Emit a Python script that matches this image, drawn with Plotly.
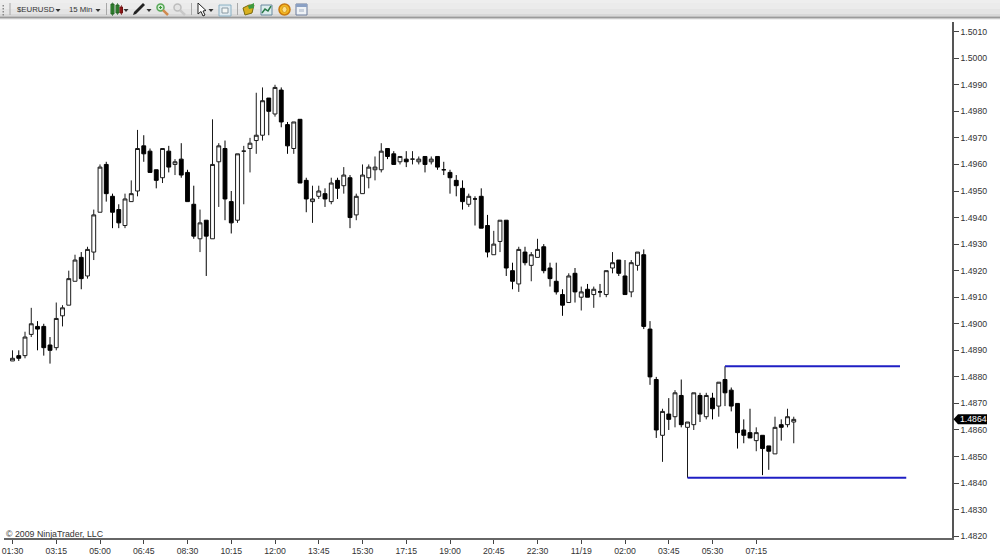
import plotly.graph_objects as go

opens = [1.4886,1.4888,1.4888,1.4896,1.4899,1.4899,1.4892,1.4891,1.4903,1.4907,
1.4916,1.4925,1.4918,1.4927,1.4942,1.4960,1.4948,1.4943,1.4937,1.4946,
1.4950,1.4967,1.4965,1.4958,1.4955,1.4965,1.4960,1.4962,1.4957,1.4945,
1.4932,1.4939,1.4932,1.4961,1.4966,1.4946,1.4939,1.4965,1.4966,1.4969,
1.4971,1.4985,1.4979,1.4988,1.4975,1.4966,1.4977,1.4954,1.4946,1.4948,
1.4949,1.4946,1.4954,1.4952,1.4955,1.4941,1.4949,1.4955,1.4958,1.4958,
1.4966,1.4964,1.4961,1.4962,1.4962,1.4961,1.4963,1.4961,1.4963,1.4958,
1.4957,1.4954,1.4951,1.4945,1.4947,1.4948,1.4937,1.4926,1.4931,1.4939,
1.4920,1.4915,1.4927,1.4922,1.4925,1.4929,1.4921,1.4916,1.4911,1.4908,
1.4919,1.4910,1.4913,1.4911,1.4912,1.4911,1.4921,1.4924,1.4918,1.4912,
1.4922,1.4926,1.4898,1.4879,1.4858,1.4866,1.4865,1.4873,1.4861,1.4862,
1.4873,1.4865,1.4872,1.4869,1.4879,1.4875,1.4870,1.4860,1.4859,1.4856,
1.4858,1.4854,1.4851,1.4862,1.4862,1.4863]
highs = [1.4890,1.4890,1.4897,1.4906,1.4901,1.4900,1.4895,1.4908,1.4907,1.4920,
1.4926,1.4927,1.4929,1.4943,1.4960,1.4961,1.4949,1.4945,1.4949,1.4954,
1.4973,1.4971,1.4966,1.4958,1.4966,1.4967,1.4962,1.4968,1.4958,1.4952,
1.4943,1.4939,1.4977,1.4968,1.4969,1.4950,1.4964,1.4967,1.4970,1.4987,
1.4989,1.4985,1.4990,1.4989,1.4976,1.4976,1.4977,1.4955,1.4952,1.4952,
1.4951,1.4955,1.4955,1.4959,1.4956,1.4949,1.4960,1.4960,1.4963,1.4968,
1.4966,1.4965,1.4963,1.4965,1.4965,1.4963,1.4963,1.4963,1.4963,1.4961,
1.4958,1.4956,1.4954,1.4949,1.4948,1.4951,1.4941,1.4935,1.4939,1.4939,
1.4923,1.4929,1.4929,1.4927,1.4932,1.4930,1.4923,1.4923,1.4913,1.4919,
1.4921,1.4914,1.4915,1.4914,1.4915,1.4920,1.4927,1.4924,1.4924,1.4924,
1.4927,1.4928,1.4901,1.4880,1.4868,1.4872,1.4875,1.4879,1.4863,1.4874,
1.4874,1.4874,1.4874,1.4878,1.4884,1.4876,1.4870,1.4864,1.4868,1.4861,
1.4858,1.4854,1.4865,1.4864,1.4868,1.4865]
lows = [1.4886,1.4886,1.4887,1.4895,1.4890,1.4888,1.4885,1.4890,1.4899,1.4907,
1.4916,1.4913,1.4917,1.4924,1.4942,1.4946,1.4936,1.4936,1.4936,1.4946,
1.4948,1.4961,1.4957,1.4951,1.4953,1.4957,1.4956,1.4955,1.4946,1.4932,
1.4927,1.4918,1.4932,1.4944,1.4939,1.4934,1.4938,1.4945,1.4957,1.4964,
1.4969,1.4971,1.4978,1.4974,1.4964,1.4964,1.4953,1.4942,1.4938,1.4947,
1.4944,1.4945,1.4947,1.4949,1.4936,1.4939,1.4949,1.4951,1.4954,1.4957,
1.4962,1.4960,1.4960,1.4959,1.4960,1.4960,1.4957,1.4960,1.4958,1.4956,
1.4949,1.4948,1.4943,1.4944,1.4937,1.4936,1.4925,1.4926,1.4927,1.4918,
1.4913,1.4912,1.4922,1.4916,1.4925,1.4919,1.4914,1.4911,1.4903,1.4908,
1.4908,1.4905,1.4910,1.4906,1.4910,1.4910,1.4919,1.4918,1.4911,1.4910,
1.4920,1.4898,1.4877,1.4857,1.4848,1.4860,1.4861,1.4861,1.4842,1.4860,
1.4863,1.4864,1.4864,1.4865,1.4869,1.4867,1.4853,1.4855,1.4857,1.4852,
1.4843,1.4845,1.4851,1.4856,1.4861,1.4855]
closes = [1.4887,1.4887,1.4895,1.4900,1.4898,1.4891,1.4890,1.4902,1.4906,1.4917,
1.4924,1.4917,1.4928,1.4941,1.4959,1.4949,1.4942,1.4938,1.4947,1.4949,
1.4966,1.4964,1.4957,1.4954,1.4966,1.4959,1.4961,1.4956,1.4946,1.4933,
1.4938,1.4933,1.4960,1.4967,1.4947,1.4938,1.4964,1.4965,1.4968,1.4971,
1.4984,1.4980,1.4989,1.4976,1.4967,1.4976,1.4953,1.4947,1.4947,1.4950,
1.4947,1.4953,1.4951,1.4956,1.4940,1.4948,1.4956,1.4959,1.4959,1.4965,
1.4963,1.4960,1.4963,1.4961,1.4962,1.4962,1.4960,1.4962,1.4959,1.4958,
1.4955,1.4952,1.4946,1.4948,1.4947,1.4936,1.4927,1.4930,1.4939,1.4921,
1.4916,1.4928,1.4923,1.4926,1.4928,1.4920,1.4917,1.4912,1.4907,1.4918,
1.4912,1.4912,1.4910,1.4913,1.4912,1.4920,1.4923,1.4919,1.4911,1.4923,
1.4927,1.4899,1.4880,1.4860,1.4867,1.4864,1.4874,1.4862,1.4863,1.4874,
1.4866,1.4873,1.4868,1.4878,1.4874,1.4869,1.4859,1.4858,1.4857,1.4859,
1.4853,1.4852,1.4861,1.4861,1.4865,1.4864]

tick_labels = ["01:30","03:15","05:00","06:45","08:30","10:15","12:00","13:45","15:30",
               "17:15","19:00","20:45","22:30","11/19","02:00","03:45","05:30","07:15"]
price_ticks = [1.4820,1.4830,1.4840,1.4850,1.4860,1.4870,1.4880,1.4890,1.4900,1.4910,
               1.4920,1.4930,1.4940,1.4950,1.4960,1.4970,1.4980,1.4990,1.5000,1.5010]
resistance = 1.4884
support = 1.4842
resistance_span = [114, 142]
support_span = [108, 143]
last_price = 1.4864

W, H = 1000, 559
L, R, T, B = 4, 952, 22, 538.5
X0, DX = 12.5, 6.25
YB, PPP = 536.7, 26.58  # pixel of 1.4820, pixels per 0.001

xs = list(range(len(opens)))
fig = go.Figure()
fig.add_trace(go.Candlestick(
    x=xs, open=opens, high=highs, low=lows, close=closes,
    increasing=dict(line=dict(color="#1a1a1a", width=1), fillcolor="#ffffff"),
    decreasing=dict(line=dict(color="#000000", width=1), fillcolor="#000000"),
    whiskerwidth=0, showlegend=False, hoverinfo="skip"))
for span, lvl in ((resistance_span, resistance), (support_span, support)):
    fig.add_trace(go.Scatter(x=span, y=[lvl, lvl], mode="lines",
                             line=dict(color="#1f1fc4", width=2),
                             showlegend=False, hoverinfo="skip"))

def px(x): return (x - L) / (R - L)
def py(y): return (B - y) / (B - T)

shapes = []
def rect(x0, y0, x1, y1, fill, line=None, lw=1):
    shapes.append(dict(type="rect", xref="paper", yref="paper", x0=px(x0), x1=px(x1),
                       y0=py(y1), y1=py(y0), fillcolor=fill, layer="above",
                       line=dict(color=line or fill, width=lw if line else 0)))
def circle(x0, y0, x1, y1, fill, line=None, lw=1):
    shapes.append(dict(type="circle", xref="paper", yref="paper", x0=px(x0), x1=px(x1),
                       y0=py(y1), y1=py(y0), fillcolor=fill, layer="above",
                       line=dict(color=line or fill, width=lw if line else 0)))
def poly(pts, fill=None, line=None, lw=1, close=True):
    d = "M" + " L".join(f"{px(a):.5f},{py(b):.5f}" for a, b in pts) + (" Z" if close else "")
    shapes.append(dict(type="path", xref="paper", yref="paper", path=d, layer="above",
                       fillcolor=fill or "rgba(0,0,0,0)",
                       line=dict(color=line or "rgba(0,0,0,0)", width=lw if line else 0)))
def caret(x, y=10):
    poly([(x - 2.5, y - 1), (x + 2.5, y - 1), (x, y + 2)], fill="#333333")

# toolbar background gradient
bands = [(0, 3, "#eeeeee"), (3, 9, "#ebebeb"), (9, 14, "#e4e4e4"), (14, 16, "#d8d8d8"),
         (16, 17, "#c0c0c0"), (17, 18, "#9a9a9a"), (18, 19, "#c8c8c8"), (19, 20, "#f0f0f0")]
for y0, y1, c in bands:
    rect(0, y0, 1000, y1, c)
for y in (5, 8, 11, 14):
    rect(2.5, y, 4, y + 1.5, "#8a8a8a")
for x in (9.5, 106, 191, 237):
    rect(x, 3, x + 1, 15, "#a8a8a8")
caret(58); caret(98); caret(126); caret(149); caret(211)
# candle icon
rect(111, 4, 114, 14, "#3f9a3f", "#1d5f1d"); rect(112.2, 2.5, 112.8, 16, "#1d5f1d")
rect(116, 5, 119, 13, "#3f9a3f", "#1d5f1d"); rect(117.2, 3, 117.8, 15, "#1d5f1d")
rect(120, 7, 122.5, 13, "#b02020", "#701010"); rect(121, 5, 121.6, 15, "#701010")
# pen icon
poly([(133, 15), (136, 14), (145, 5), (143, 3), (134, 12)], fill="#222222")
# zoom in / out
circle(157, 4, 164, 11, "#cfeccf", "#58a858", 1.5)
poly([(163, 10), (168, 15)], line="#d08a50", lw=2.5, close=False)
rect(159, 7, 162, 8, "#3a9a3a"); rect(160, 6, 161, 9, "#3a9a3a")
circle(174, 4, 181, 11, "#e4e4e4", "#bdbdbd", 1.5)
poly([(180, 10), (185, 15)], line="#c8c8c8", lw=2.5, close=False)
# cursor
poly([(198, 3), (198, 14), (201, 11.5), (203, 16), (205, 15), (203, 11), (206, 10.5)],
     fill="#ffffff", line="#222222", lw=1)
# selection box
rect(219, 5, 231, 16, "#dfeaf0", "#8ab0c4")
rect(222, 8, 228, 13, "#f4f6f4", "#8a9aa4")
# folder icon
poly([(243, 8), (249, 5), (254, 5), (252, 13), (245, 15)], fill="#d8b020", line="#7a6a10")
poly([(248, 6), (254, 3), (254, 8), (249, 9)], fill="#3f9a3f")
# chart icon
rect(261, 5, 272, 15, "#dcecec", "#6a8aa0")
poly([(262, 13), (265, 9), (268, 11), (271, 6)], line="#2a7a4a", lw=1.5, close=False)
# coin icon
circle(279, 4, 290, 15, "#f4b820", "#c87a10", 1.5)
circle(282, 6.5, 287, 12.5, "#fbe08a", "#d89a20", 1)
# calendar icon
rect(296, 4, 307, 15, "#eef2f6", "#6a7a9a")
rect(296, 4, 307, 7, "#8aa0c4")
rect(299, 9, 304, 12, "#c8d0dc")

# last-price flag
yf = YB - (last_price - 1.4820) * 1000 * PPP
poly([(953.5, yf), (958, yf - 5), (987, yf - 5), (987, yf + 5), (958, yf + 5)], fill="#000000")

FONT = "Liberation Sans"
ann = [
    dict(x=px(16), y=py(9.8), text="$EURUSD", font=dict(size=7.8, color="#333333")),
    dict(x=px(68), y=py(9.8), text="15 Min", font=dict(size=7.8, color="#333333")),
    dict(x=px(5), y=py(534), text="© 2009 NinjaTrader, LLC", font=dict(size=8.8, color="#333333")),
    dict(x=px(959), y=py(yf), text=f"{last_price:.4f}", font=dict(size=8.7, color="#ffffff")),
]
for a in ann:
    a.update(xref="paper", yref="paper", xanchor="left", yanchor="middle",
             showarrow=False, borderpad=0)
    a["font"]["family"] = FONT

fig.update_layout(
    width=W, height=H, autosize=False,
    margin=dict(l=L, r=W - R, t=T, b=H - B, pad=0),
    paper_bgcolor="#ffffff", plot_bgcolor="#ffffff",
    boxgap=0.12, showlegend=False,
    font=dict(family=FONT, size=9, color="#333333"),
    shapes=shapes, annotations=ann,
    xaxis=dict(type="linear", range=[(L - X0) / DX, (R - X0) / DX], automargin=False,
               tickmode="array", tickvals=xs[0:120:7], ticktext=tick_labels,
               ticks="outside", ticklen=4, tickcolor="#444444", tickwidth=1,
               showgrid=False, zeroline=False, showline=True, linecolor="#666666", linewidth=2,
               rangeslider=dict(visible=False), tickfont=dict(size=8.7, color="#333333")),
    yaxis=dict(side="right", range=[1.4820 - (B - YB) / PPP / 1000, 1.4820 + (YB - T) / PPP / 1000],
               automargin=False,
               tickmode="array", tickvals=price_ticks, ticktext=[f"{p:.4f}" for p in price_ticks],
               ticks="outside", ticklen=5, tickcolor="#444444", tickwidth=1,
               showgrid=False, zeroline=False, showline=True, linecolor="#555555", linewidth=1.5,
               tickfont=dict(size=8.7, color="#333333")),
)
fig.write_html("out.html", config=dict(displayModeBar=False),
               post_script="document.body.style.margin='0';")
